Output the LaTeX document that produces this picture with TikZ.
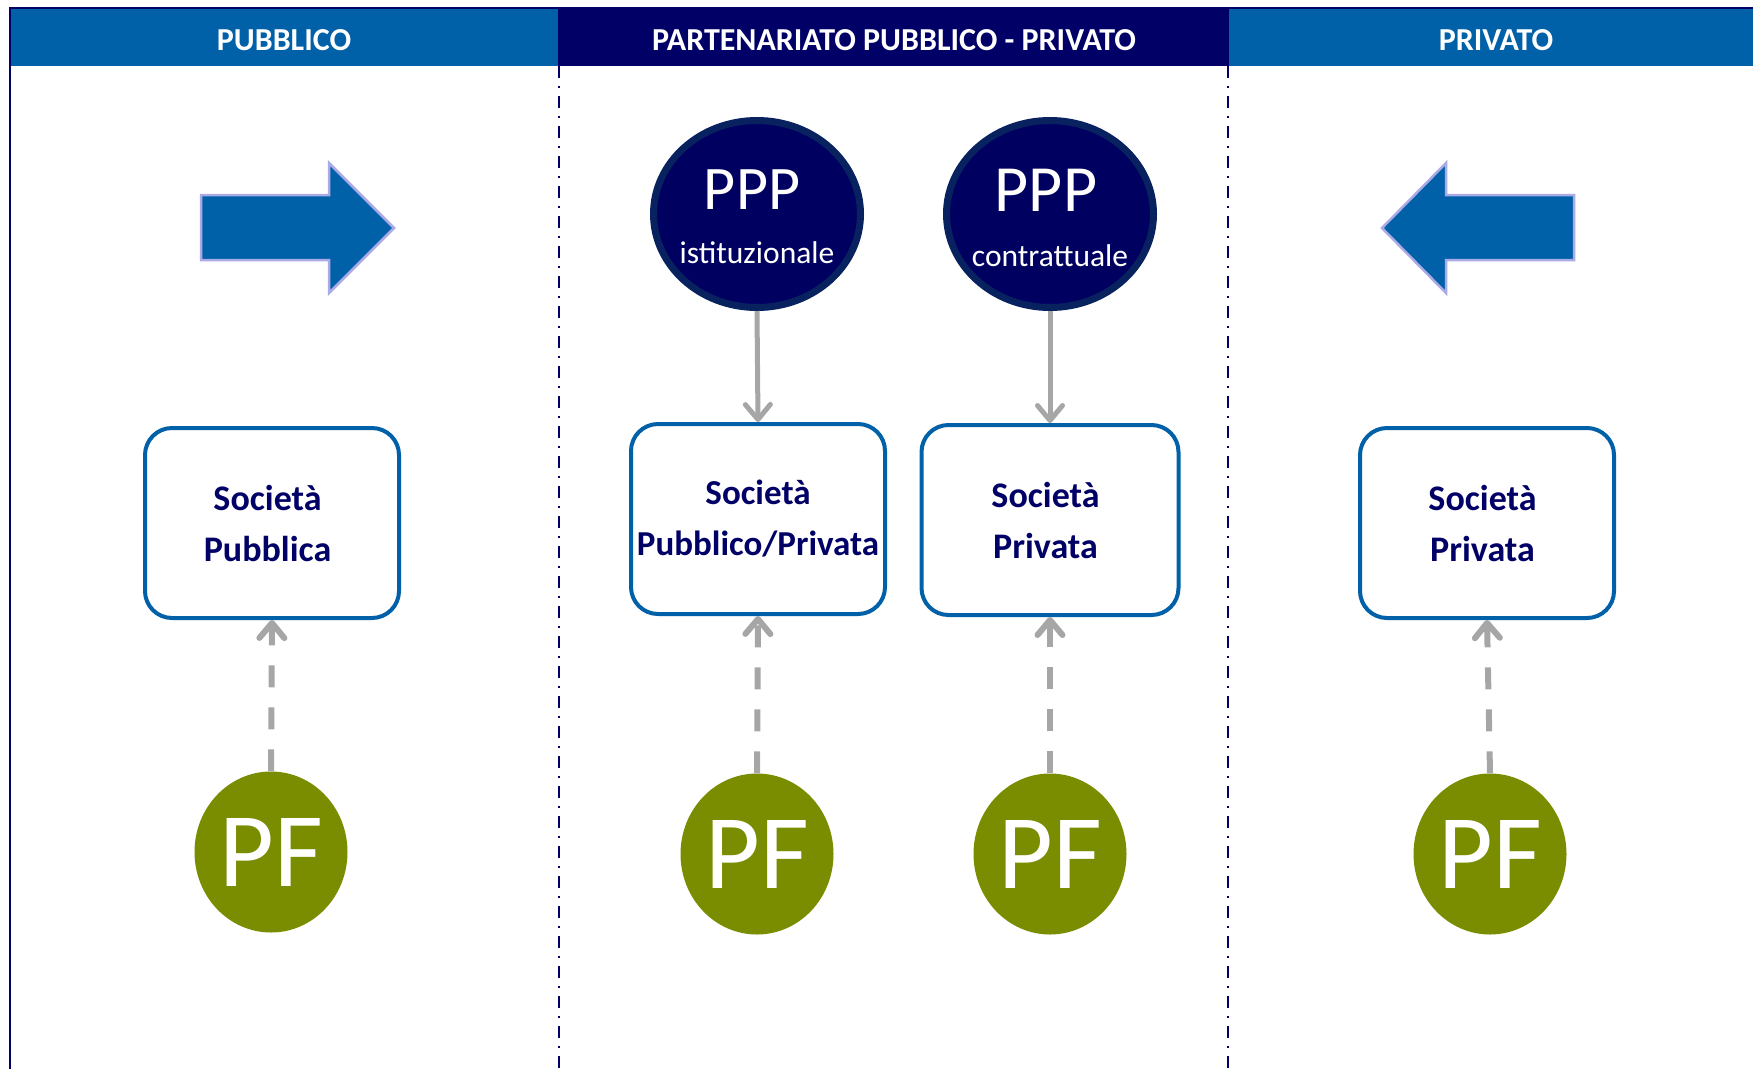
\documentclass[tikz,border=0pt]{standalone}
\usepackage{fontspec}
\setmainfont{Carlito}
\usetikzlibrary{arrows.meta,shapes.geometric}
\definecolor{hblue}{RGB}{0,96,168}
\definecolor{navy}{RGB}{0,0,102}
\definecolor{pppfill}{RGB}{0,0,96}
\definecolor{pppline}{RGB}{8,34,96}
\definecolor{olive}{RGB}{122,141,0}
\definecolor{arrgray}{RGB}{166,166,166}
\definecolor{arroutline}{RGB}{170,170,230}
\newcommand{\trail}{\hspace*{9pt}}
\tikzset{
  hdrtext/.style={text=white,font=\bfseries\fontsize{32}{32}\selectfont,inner sep=0pt},
  socbox/.style={draw=hblue,line width=4pt,fill=white,rounded corners=27pt,
    minimum width=254pt,minimum height=190pt,align=center,text=navy,
    font=\bfseries\fontsize{36}{51}\selectfont,inner sep=0pt},
  pppnode/.style={ellipse,draw=pppline,line width=7pt,fill=pppfill,
    minimum width=207pt,minimum height=187pt,inner sep=0pt},
  pppbig/.style={text=white,font=\fontsize{62}{62}\selectfont,inner sep=0pt},
  pppsmall/.style={text=white,font=\fontsize{31.5}{31.5}\selectfont,inner sep=0pt},
  pfnode/.style={ellipse,fill=olive,minimum width=153pt,minimum height=161pt,
    text=white,font=\fontsize{106}{106}\selectfont,inner sep=0pt},
  solidarr/.style={draw=arrgray,line width=5pt,
    -{Straight Barb[round,length=15pt,width=25pt]}},
  dasharr/.style={draw=arrgray,line width=6pt,dash pattern=on 22pt off 20pt,
    -{Straight Barb[round,length=15pt,width=25pt]}},
  divider/.style={draw=navy,line width=2pt,dash pattern=on 12pt off 8pt on 2pt off 8pt},
  blockarrow/.style={fill=hblue,draw=arroutline,line width=2.5pt,line join=miter}
}
\begin{document}
\begin{tikzpicture}[x=1pt,y=-1pt]
\useasboundingbox (0,0) rectangle (1753,1069);
% header band
\fill[hblue] (10,9) rectangle (558,66);
\fill[navy] (558,9) rectangle (1229,66);
\fill[hblue] (1229,9) rectangle (1753,66);
\node[hdrtext] (h1) at (284,40.5) {PUBBLICO};
\node[hdrtext] (h2) at (894,40.5) {PARTENARIATO PUBBLICO - PRIVATO};
\node[hdrtext] (h3) at (1496,40.5) {PRIVATO};
% frame
\draw[navy,line width=2.5pt] (10,1069) -- (10,8) -- (1753,8);
\draw[divider] (559,66) -- (559,1069);
\draw[divider] (1228,66) -- (1228,1069);
% block arrows
\draw[blockarrow] (201,195) -- (329,195) -- (329,163) -- (394,228) -- (329,293) -- (329,260) -- (201,260) -- cycle;
\draw[blockarrow] (1574,195) -- (1446,195) -- (1446,163) -- (1382,228) -- (1446,293) -- (1446,260) -- (1574,260) -- cycle;
% PPP circles
\node[pppnode] (p1) at (757,214) {};
\node[pppnode] (p2) at (1050,214) {};
\node[pppbig] (p1t) at (752,190) {PPP};
\node[pppsmall] (p1s) at (757,253) {istituzionale};
\node[pppbig,font=\fontsize{66}{66}\selectfont] (p2t) at (1046,190) {PPP};
\node[pppsmall] (p2s) at (1050,256) {contrattuale};
% boxes
\node[socbox] (b1) at (272,523) {Società\trail\\Pubblica\trail};
\node[socbox,font=\bfseries\fontsize{35}{51}\selectfont] (b2) at (758,519) {Società\\Pubblico/Privata};
\node[socbox,minimum width=257pt] (b3) at (1050,520) {Società\trail\\Privata\trail};
\node[socbox] (b4) at (1487,523) {Società\trail\\Privata\trail};
% PF circles
\node[pfnode] (f1) at (271,852) {PF};
\node[pfnode] (f2) at (757,854) {PF};
\node[pfnode] (f3) at (1050,854) {PF};
\node[pfnode] (f4) at (1490,854) {PF};
% connectors
\draw[solidarr] (p1.south) -- (b2.north);
\draw[solidarr] (p2.south) -- (b3.north);
\draw[dasharr] (f1.north) -- (b1.south);
\draw[dasharr] (f2.north) -- (b2.south);
\draw[dasharr] (f3.north) -- (b3.south);
\draw[dasharr] (f4.north) -- (b4.south);
\end{tikzpicture}
\end{document}
